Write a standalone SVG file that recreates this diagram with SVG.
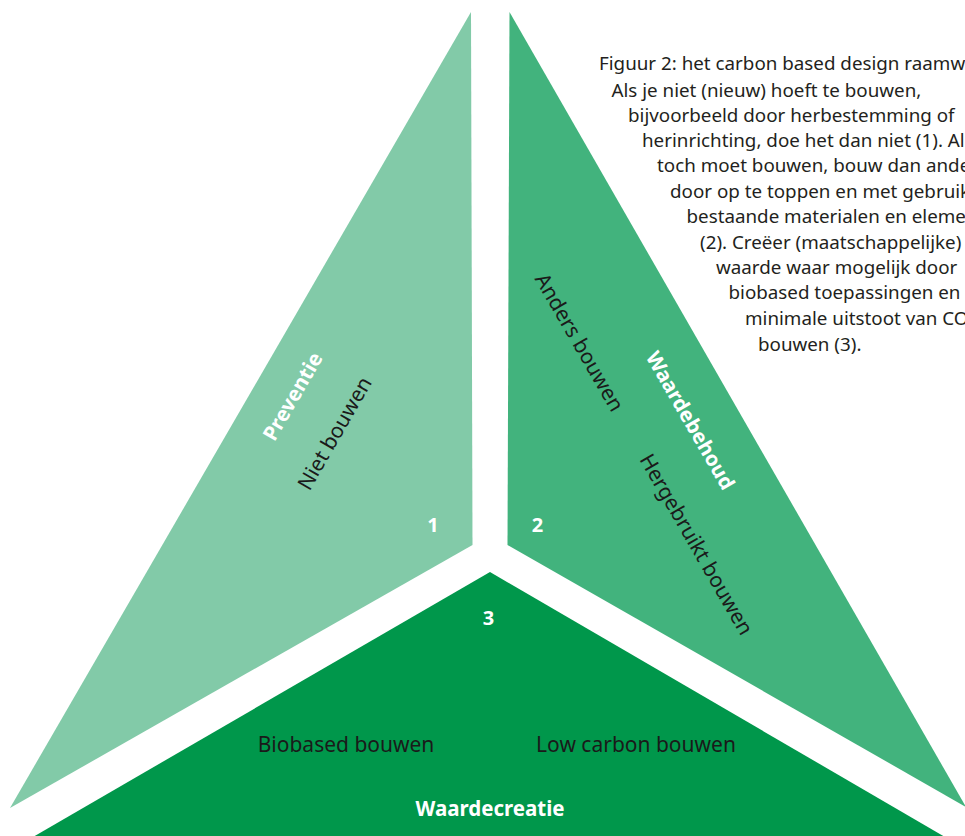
<svg xmlns="http://www.w3.org/2000/svg" width="965" height="836" viewBox="0 0 965 836">
  <style>
    .lbl { font-family: "Noto Sans", "Open Sans", sans-serif; font-size: 21px; fill: #1a1a1a; text-anchor: middle; dominant-baseline: central; }
    .head { font-family: "Noto Sans", "Open Sans", sans-serif; font-size: 20.5px; font-weight: bold; fill: #ffffff; text-anchor: middle; dominant-baseline: central; }
    .num { font-family: "Noto Sans", "Open Sans", sans-serif; font-size: 20px; font-weight: bold; fill: #ffffff; text-anchor: middle; dominant-baseline: central; }
    .cap { font-family: "Noto Sans", "Open Sans", sans-serif; font-size: 18.8px; fill: #231f20; }
  </style>
  <rect width="965" height="836" fill="#ffffff"/>

  <!-- 1: Preventie -->
  <g id="preventie">
    <polygon points="471,12 472.5,545 10,808" fill="#82caa8"/>
    <text class="head" transform="translate(292,396) rotate(-60)">Preventie</text>
    <text class="lbl" transform="translate(334,433) rotate(-60)">Niet bouwen</text>
    <text class="num" x="433" y="524">1</text>
  </g>

  <!-- 2: Waardebehoud -->
  <g id="waardebehoud">
    <polygon points="509.5,12 507.5,545 966,807" fill="#42b37d"/>
    <text class="lbl" transform="translate(580,342) rotate(60)">Anders bouwen</text>
    <text class="head" transform="translate(691,420) rotate(60)">Waardebehoud</text>
    <text class="lbl" transform="translate(697,544) rotate(60)">Hergebruikt bouwen</text>
    <text class="num" x="537.5" y="524">2</text>
  </g>

  <!-- 3: Waardecreatie -->
  <g id="waardecreatie">
    <polygon points="490,572 33,837 945,837" fill="#00974b"/>
    <text class="num" x="488.5" y="617">3</text>
    <text class="lbl" x="346" y="744">Biobased bouwen</text>
    <text class="lbl" x="636" y="744">Low carbon bouwen</text>
    <text class="head" x="490" y="808">Waardecreatie</text>
  </g>

  <!-- caption, running past the right edge -->
  <g id="caption">
    <text class="cap" x="599" y="70">Figuur 2: het carbon based design raamwerk</text>
    <text class="cap" x="611.5" y="96.5">Als je niet (nieuw) hoeft te bouwen,</text>
    <text class="cap" x="628" y="122">bijvoorbeeld door herbestemming of</text>
    <text class="cap" x="642" y="147">herinrichting, doe het dan niet (1). Als je</text>
    <text class="cap" x="657" y="172">toch moet bouwen, bouw dan anders,</text>
    <text class="cap" x="670" y="197.5">door op te toppen en met gebruik van</text>
    <text class="cap" x="686.5" y="223">bestaande materialen en elementen</text>
    <text class="cap" x="700" y="248.5">(2). Creëer (maatschappelijke)</text>
    <text class="cap" x="716" y="274">waarde waar mogelijk door</text>
    <text class="cap" x="728.5" y="299">biobased toepassingen en</text>
    <text class="cap" x="745" y="325">minimale uitstoot van CO2</text>
    <text class="cap" x="758" y="350.5">bouwen (3).</text>
  </g>
</svg>
